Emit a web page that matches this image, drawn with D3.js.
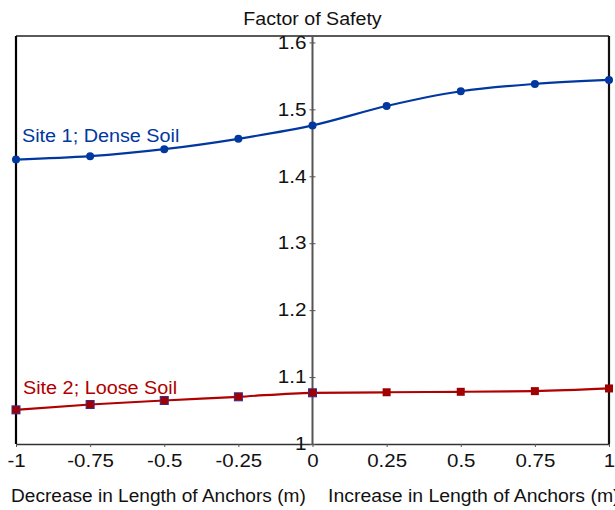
<!DOCTYPE html>
<html>
<head>
<meta charset="utf-8">
<script src="https://cdn.jsdelivr.net/npm/d3@7"></script>
<style>
  html, body { margin: 0; padding: 0; background: #fff; }
  svg { display: block; font-family: "Liberation Sans", Arial, sans-serif; }
</style>
</head>
<body>
<svg id="chart" width="615" height="510"></svg>
<script>
// Change in anchor length (m): negative = shorter, positive = longer
const lengthChange = [-1, -0.75, -0.5, -0.25, 0, 0.25, 0.5, 0.75, 1];
// Factor of safety per site
const denseSoilFS = [1.425, 1.430, 1.4405, 1.456, 1.476, 1.505, 1.527, 1.538, 1.544];
const looseSoilFS = [1.051, 1.059, 1.065, 1.0705, 1.0765, 1.0773, 1.078, 1.079, 1.083];
const xTickValues = [-1, -0.75, -0.5, -0.25, 0, 0.25, 0.5, 0.75, 1];
const xTickLabels = ["-1", "-0.75", "-0.5", "-0.25", "0", "0.25", "0.5", "0.75", "1"];
const yTickValues = [1, 1.1, 1.2, 1.3, 1.4, 1.5, 1.6];
const yTickLabels = ["1", "1.1", "1.2", "1.3", "1.4", "1.5", "1.6"];

const svg = d3.select("#chart");
const plotLeft = 16, plotRight = 609, plotTop = 36, plotBottom = 444;
const FONT = "Liberation Sans, Arial, sans-serif";

const x = d3.scaleLinear().domain([-1, 1]).range([plotLeft, plotRight]);
const y = d3.scaleLinear().domain([1, 1.6096]).range([plotBottom, plotTop]);

// Widen text glyphs horizontally by a factor (wide Arial-like look)
function widen(sel, factor) {
  sel.each(function () {
    const w = this.getComputedTextLength();
    d3.select(this).attr("textLength", w * factor).attr("lengthAdjust", "spacingAndGlyphs");
  });
}

// Frame
svg.append("line").attr("x1", plotLeft).attr("x2", plotRight).attr("y1", plotTop).attr("y2", plotTop)
  .attr("stroke", "#222").attr("stroke-width", 1.5);
svg.append("line").attr("x1", plotLeft).attr("x2", plotLeft).attr("y1", plotTop).attr("y2", plotBottom)
  .attr("stroke", "#000").attr("stroke-width", 2.2);
svg.append("line").attr("x1", plotRight).attr("x2", plotRight).attr("y1", plotTop).attr("y2", plotBottom)
  .attr("stroke", "#111").attr("stroke-width", 2.2);

// Bottom x axis
const xAxis = d3.axisBottom(x)
  .tickValues(xTickValues)
  .tickFormat((d, i) => xTickLabels[i])
  .tickSizeInner(3).tickSizeOuter(0).tickPadding(8);
const gx = svg.append("g").attr("transform", `translate(0,${plotBottom})`).call(xAxis);
gx.select(".domain").attr("stroke", "#333").attr("stroke-width", 1.5);
gx.selectAll(".tick line").attr("stroke", "#555");
gx.selectAll(".tick text").attr("font-size", 17.5).attr("fill", "#111").attr("font-family", FONT)
  .call(widen, 1.17);

// Central y axis at zero
const yAxis = d3.axisLeft(y)
  .tickValues(yTickValues)
  .tickFormat((d, i) => yTickLabels[i])
  .tickSizeInner(0).tickSizeOuter(0).tickPadding(6);
const gy = svg.append("g").attr("transform", `translate(${x(0)},0)`).call(yAxis);
gy.select(".domain").attr("stroke", "#555").attr("stroke-width", 2)
  .attr("d", `M0,${plotTop}V${plotBottom}`);
gy.selectAll(".tick").append("line")
  .attr("x1", -3).attr("x2", 3).attr("stroke", "#555").attr("stroke-width", 1);
gy.selectAll(".tick text").attr("font-size", 18).attr("fill", "#111").attr("font-family", FONT)
  .call(widen, 1.15);

// Title
svg.append("text").attr("x", x(0)).attr("y", 25).attr("text-anchor", "middle")
  .attr("font-size", 17.5).attr("fill", "#111").text("Factor of Safety")
  .call(widen, 1.12);

// Axis titles
svg.append("text").attr("x", 11).attr("y", 502).attr("font-size", 17.5).attr("fill", "#111")
  .text("Decrease in Length of Anchors (m)").call(widen, 1.09);
svg.append("text").attr("x", 328).attr("y", 502).attr("font-size", 17.5).attr("fill", "#111")
  .text("Increase in Length of Anchors (m)").call(widen, 1.11);

const line = d3.line().curve(d3.curveMonotoneX).x(d => x(d[0])).y(d => y(d[1]));

// Site 1: dense soil
const dense = lengthChange.map((v, i) => [v, denseSoilFS[i]]);
svg.append("path").datum(dense).attr("d", line).attr("fill", "none")
  .attr("stroke", "#0038a0").attr("stroke-width", 2.2);
svg.selectAll(".dense").data(dense).enter().append("circle")
  .attr("cx", d => x(d[0])).attr("cy", d => y(d[1])).attr("r", 4)
  .attr("fill", "#0038a0");

// Site 2: loose soil
const loose = lengthChange.map((v, i) => [v, looseSoilFS[i]]);
svg.append("path").datum(loose).attr("d", line).attr("fill", "none")
  .attr("stroke", "#b00000").attr("stroke-width", 2.2);
svg.selectAll(".loose").data(loose).enter().append("rect")
  .attr("x", d => x(d[0]) - 4).attr("y", d => y(d[1]) - 4)
  .attr("width", 8).attr("height", 8)
  .attr("fill", "#a00000")
  .attr("stroke", d => d[0] <= 0 ? "#3b2a8c" : "none").attr("stroke-width", 1);

// Series labels
svg.append("text").attr("x", 22).attr("y", 142).attr("font-size", 18)
  .attr("fill", "#0038a0").text("Site 1; Dense Soil").call(widen, 1.1);
svg.append("text").attr("x", 23).attr("y", 394).attr("font-size", 18)
  .attr("fill", "#b00000").text("Site 2; Loose Soil").call(widen, 1.1);
</script>
</body>
</html>
